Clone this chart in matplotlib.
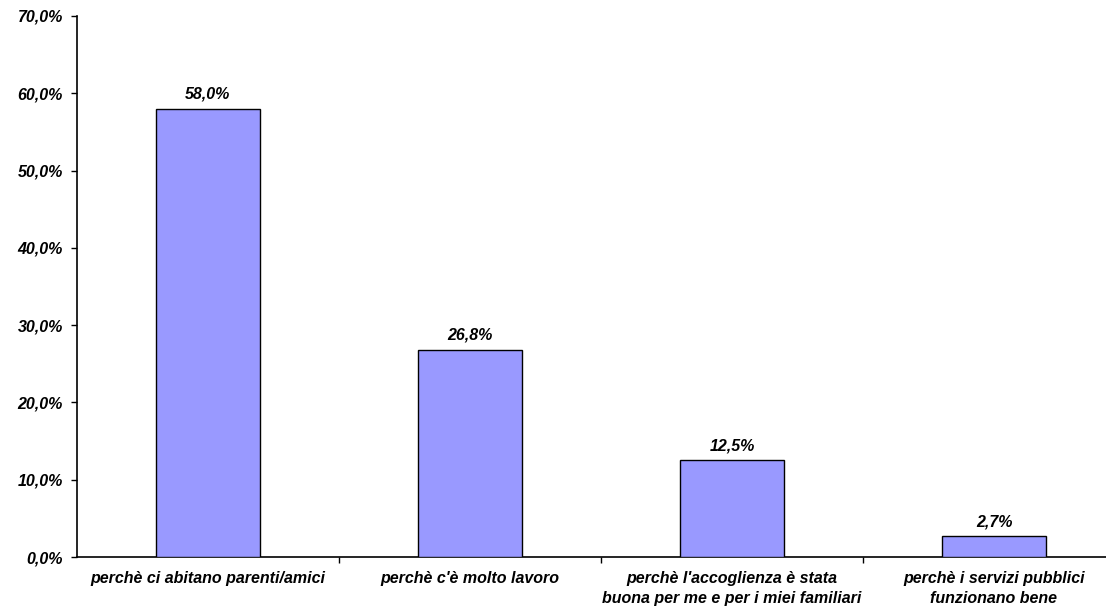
import matplotlib
matplotlib.use("Agg")
import matplotlib.pyplot as plt
from matplotlib.ticker import FixedLocator

categories = [
    "perchè ci abitano parenti/amici",
    "perchè c'è molto lavoro",
    "perchè l'accoglienza è stata\nbuona per me e per i miei familiari",
    "perchè i servizi pubblici\nfunzionano bene",
]
values = [58.0, 26.8, 12.5, 2.7]
yticks = [0, 10, 20, 30, 40, 50, 60, 70]

plt.rcParams['font.family'] = ['Liberation Sans', 'DejaVu Sans']

fig = plt.figure(figsize=(11.06, 6.13), dpi=100)
left = 77 / 1106
bottom = (613 - 557) / 613
width = (1125 - 77) / 1106
height = (557 - 16) / 613
ax = fig.add_axes([left, bottom, width, height])

FS = 11.5
x = list(range(len(categories)))
ax.bar(x, values, width=0.40, color='#9999FF', edgecolor='black', linewidth=1.0, zorder=3)

for xi, v in zip(x, values):
    ax.annotate(f"{v:.1f}%".replace('.', ','), (xi, v), xytext=(0, 5), textcoords='offset points',
                ha='center', va='bottom', fontsize=FS, fontweight='bold', fontstyle='italic')

ax.set_xlim(-0.5, 3.5)
ax.set_ylim(0, 70)
ax.set_yticks(yticks)
ax.set_yticklabels([f"{t:.1f}%".replace('.', ',') for t in yticks], fontsize=FS,
                   fontweight='bold', fontstyle='italic')
ax.set_xticks(x)
ax.set_xticklabels(categories, fontsize=FS, fontweight='bold', fontstyle='italic', linespacing=1.4)
ax.tick_params(axis='x', which='major', length=0, pad=10)
ax.xaxis.set_minor_locator(FixedLocator([0.5, 1.5, 2.5]))
ax.tick_params(axis='x', which='minor', length=4, width=1, direction='out')
ax.tick_params(axis='y', length=4, width=1, direction='out', pad=6)

for s in ['top', 'right']:
    ax.spines[s].set_visible(False)
for s in ['left', 'bottom']:
    ax.spines[s].set_linewidth(1.2)

fig.savefig("out.png", dpi=100)
